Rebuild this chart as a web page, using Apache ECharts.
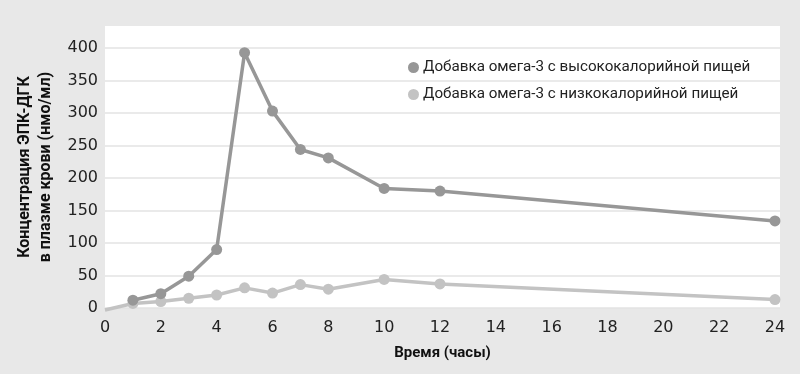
<!DOCTYPE html>
<html>
<head>
<meta charset="utf-8">
<script src="https://cdn.jsdelivr.net/npm/echarts@6/dist/echarts.min.js"></script>
<style>
html,body{margin:0;padding:0;background:#e8e8e8;}
#chart{width:800px;height:374px;}
</style>
</head>
<body>
<div id="chart"></div>
<script>
var hoursHigh = [1, 2, 3, 4, 5, 6, 7, 8, 10, 12, 24];
var highCal = [12, 22, 49, 90, 393, 303, 244, 231, 184, 180, 134];
var hoursLow = [0, 1, 2, 3, 4, 5, 6, 7, 8, 10, 12, 24];
var lowCal = [-3, 7, 10, 15, 20, 31, 23, 36, 29, 44, 37, 13];
var seriesNames = ['Добавка омега-3 с высококалорийной пищей', 'Добавка омега-3 с низкокалорийной пищей'];
var yTicks = [0, 50, 100, 150, 200, 250, 300, 350, 400];
var xTicks = [0, 2, 4, 6, 8, 10, 12, 14, 16, 18, 20, 22, 24];

var darkColor = '#979797';
var lightColor = '#c3c3c3';

function pairs(xs, ys) {
  return xs.map(function (x, i) {
    var item = { value: [x, ys[i]] };
    if (x === 0) { item.symbol = 'none'; }
    return item;
  });
}

var chart = echarts.init(document.getElementById('chart'), null, { renderer: 'canvas' });
chart.setOption({
  backgroundColor: '#e8e8e8',
  animation: false,
  grid: {
    show: true, backgroundColor: '#ffffff', borderWidth: 0,
    left: 105, right: 20, top: 26, bottom: 66
  },
  legend: {
    orient: 'vertical', left: 403, top: 55, itemGap: 12,
    icon: 'circle', itemWidth: 11, itemHeight: 11,
    textStyle: { fontFamily: 'Roboto', fontSize: 15.2, color: '#222', padding: [0, 0, 0, -1] },
    data: seriesNames
  },
  xAxis: {
    type: 'value', min: 0, max: 24.18, interval: 2,
    name: 'Время (часы)', nameLocation: 'middle', nameGap: 38,
    nameTextStyle: { fontFamily: 'Roboto', fontWeight: 'bold', fontSize: 15, color: '#111' },
    axisLine: { show: false }, axisTick: { show: false }, splitLine: { show: false },
    axisLabel: {
      margin: 12, fontFamily: 'DejaVu Sans', fontSize: 16, color: '#222', showMaxLabel: false,
      formatter: function (v) { return xTicks.indexOf(v) >= 0 ? String(v) : ''; }
    }
  },
  yAxis: {
    type: 'value', min: 0, max: 434, interval: 50,
    name: 'Концентрация ЭПК-ДГК\nв плазме крови (нмо/мл)', nameLocation: 'middle', nameGap: 49,
    nameTextStyle: { fontFamily: 'Roboto', fontWeight: 'bold', fontSize: 16, color: '#111', lineHeight: 21 },
    axisLine: { show: false }, axisTick: { show: false },
    splitLine: { show: true, showMaxLine: false, lineStyle: { color: '#e3e3e3', width: 1.5 } },
    axisLabel: {
      margin: 7, fontFamily: 'DejaVu Sans', fontSize: 16, color: '#222', showMaxLabel: false,
      formatter: function (v) { return yTicks.indexOf(v) >= 0 ? String(v) : ''; }
    }
  },
  series: [
    {
      name: seriesNames[0], type: 'line', data: pairs(hoursHigh, highCal),
      symbol: 'circle', symbolSize: 11, clip: false,
      itemStyle: { color: darkColor },
      lineStyle: { color: darkColor, width: 3.5 }
    },
    {
      name: seriesNames[1], type: 'line', data: pairs(hoursLow, lowCal),
      symbol: 'circle', symbolSize: 11, clip: false, z: 1,
      itemStyle: { color: lightColor },
      lineStyle: { color: lightColor, width: 3.5 }
    }
  ]
});
</script>
</body>
</html>
